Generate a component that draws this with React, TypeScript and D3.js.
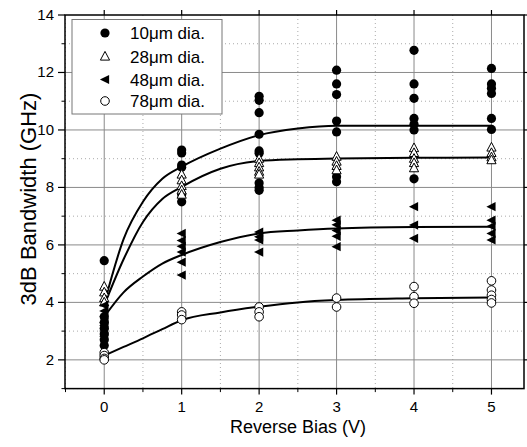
import React from "react";
import * as d3 from "d3";

// Scatter data (x = reverse bias V, y = bandwidth GHz)
const bias = [0, 1, 2, 3, 4, 5];
const d10: number[][] = [
  [5.45, 3.5, 3.3, 3.1, 2.9, 2.7, 2.5],
  [9.3, 9.2, 8.78, 8.7, 7.75, 7.5],
  [11.17, 11.03, 10.6, 9.85, 9.27, 9.19, 8.15, 8.0, 7.9],
  [12.08, 11.6, 11.23, 10.31, 9.93, 8.37, 8.2],
  [12.77, 11.6, 11.1, 10.4, 10.2, 10.0, 8.3],
  [12.14, 11.6, 11.45, 11.27, 10.4, 10.02],
];
const d28: number[][] = [
  [4.55, 4.35, 4.15, 4.0],
  [8.45, 8.25, 8.05, 7.9, 7.75],
  [9.0, 8.85, 8.7, 8.55, 8.45],
  [9.07, 8.9, 8.75, 8.6],
  [9.37, 9.2, 9.0, 8.85, 8.67],
  [9.39, 9.2, 9.05, 8.95],
];
const d48: number[][] = [
  [3.9, 3.7, 3.5, 3.3, 3.2, 3.0, 2.8],
  [6.4, 6.15, 5.95, 5.75, 5.4, 4.95],
  [6.45, 6.28, 6.17, 5.75],
  [6.86, 6.7, 6.5, 6.3, 5.94],
  [7.33, 6.69, 6.23],
  [7.33, 6.86, 6.65, 6.4, 6.17],
];
const d78: number[][] = [
  [2.25, 2.15, 2.05, 2.0],
  [3.67, 3.56, 3.4],
  [3.84, 3.67, 3.5],
  [4.15, 3.84],
  [4.55, 4.2, 3.97],
  [4.75, 4.43, 4.25, 4.1, 3.98],
];

// Fit curves
const fitX = [0, 0.25, 0.5, 0.75, 1, 1.5, 2, 2.5, 3, 4, 5];
const fit10 = [3.95, 6.2, 7.5, 8.3, 8.72, 9.35, 9.82, 10.05, 10.15, 10.15, 10.15];
const fit28 = [3.9, 5.5, 6.8, 7.6, 8.02, 8.65, 8.92, 8.98, 9.01, 9.03, 9.04];
const fit48 = [3.5, 4.35, 4.9, 5.35, 5.65, 6.1, 6.4, 6.5, 6.57, 6.62, 6.63];
const fit78 = [2.15, 2.45, 2.75, 3.07, 3.38, 3.65, 3.85, 4.0, 4.08, 4.14, 4.17];

const xTicks = [0, 1, 2, 3, 4, 5];
const xMinor = [-0.5, 0.5, 1.5, 2.5, 3.5, 4.5];
const yTicks = [2, 4, 6, 8, 10, 12, 14];
const yMinor = [1, 3, 5, 7, 9, 11, 13];
const legendLabels = ["10\u03bcm dia.", "28\u03bcm dia.", "48\u03bcm dia.", "78\u03bcm dia."];

const W = 527, H = 447;
const L = 65, R = 524, T = 15, B = 388.6;
const FONT = "'Liberation Sans', Arial, sans-serif";

function Marker({ kind, cx, cy }: { kind: number; cx: number; cy: number }) {
  const s = 4.6;
  if (kind === 0) return <circle cx={cx} cy={cy} r={s} fill="#000" />;
  if (kind === 1)
    return (
      <path
        d={`M${cx},${cy - s - 0.5}L${cx + s},${cy + s - 1}L${cx - s},${cy + s - 1}Z`}
        fill="#fff"
        stroke="#000"
        strokeWidth={1}
      />
    );
  if (kind === 2)
    return <path d={`M${cx - s - 0.5},${cy}L${cx + s - 0.5},${cy - s}L${cx + s - 0.5},${cy + s}Z`} fill="#000" />;
  return <circle cx={cx} cy={cy} r={s - 0.3} fill="#fff" stroke="#000" strokeWidth={1} />;
}

export default function App() {
  const x = d3.scaleLinear().domain([-0.5, 5.42]).range([L + 0.5, R]);
  const y = d3.scaleLinear().domain([1, 14]).range([B, T]);
  const line = d3
    .line<number>()
    .x((_, i) => x(fitX[i]))
    .y((d) => y(d))
    .curve(d3.curveMonotoneX);
  const fits = [fit10, fit28, fit48, fit78];
  const sets = [d10, d28, d48, d78];

  return (
    <svg width={W} height={H} style={{ position: "absolute", left: 0, top: 0 }} fontFamily={FONT}>
      <rect width={W} height={H} fill="#fff" />
      {/* grid */}
      {xMinor.map((v) => (
        <line key={"xm" + v} x1={x(v)} x2={x(v)} y1={T} y2={B} stroke="#aaa" strokeDasharray="1,3" />
      ))}
      {yMinor.map((v) => (
        <line key={"ym" + v} x1={L} x2={R} y1={y(v)} y2={y(v)} stroke="#aaa" strokeDasharray="1,3" />
      ))}
      {xTicks.map((v) => (
        <line key={"xg" + v} x1={x(v)} x2={x(v)} y1={T} y2={B} stroke="#8a8a8a" strokeWidth={1} />
      ))}
      {yTicks.slice(0, -1).map((v) => (
        <line key={"yg" + v} x1={L} x2={R} y1={y(v)} y2={y(v)} stroke="#8a8a8a" strokeWidth={1} />
      ))}
      {/* fit curves */}
      {fits.map((f, i) => (
        <path key={"f" + i} d={line(f) || ""} fill="none" stroke="#000" strokeWidth={2} />
      ))}
      {/* points */}
      {sets.map((set, k) =>
        set.map((col, j) =>
          col.map((v, n) => <Marker key={`p${k}-${j}-${n}`} kind={k} cx={x(bias[j])} cy={y(v)} />)
        )
      )}
      {/* frame */}
      <rect x={L} y={T} width={R - L} height={B - T} fill="none" stroke="#000" strokeWidth={1.5} />
      {/* ticks */}
      {xTicks.map((v) => (
        <g key={"xt" + v}>
          <line x1={x(v)} x2={x(v)} y1={B} y2={B + 6} stroke="#000" strokeWidth={1.2} />
          <line x1={x(v)} x2={x(v)} y1={T} y2={T - 5} stroke="#000" strokeWidth={1.2} />
          <text x={x(v)} y={412} textAnchor="middle" fontSize={15} fill="#000">
            {v}
          </text>
        </g>
      ))}
      {xMinor.map((v) => (
        <g key={"xmt" + v}>
          <line x1={x(v)} x2={x(v)} y1={B} y2={B + 3.5} stroke="#000" strokeWidth={1} />
        </g>
      ))}
      {yTicks.map((v) => (
        <g key={"yt" + v}>
          <line x1={L - 7} x2={L} y1={y(v)} y2={y(v)} stroke="#000" strokeWidth={1.2} />
          <line x1={R} x2={R + 6} y1={y(v)} y2={y(v)} stroke="#000" strokeWidth={1.2} />
          <text x={54} y={y(v) + 5} textAnchor="end" fontSize={15} fill="#000">
            {v}
          </text>
        </g>
      ))}
      {yMinor.map((v) => (
        <line key={"ymt" + v} x1={L - 3.5} x2={L} y1={y(v)} y2={y(v)} stroke="#000" strokeWidth={1} />
      ))}
      {/* axis titles */}
      <text x={298} y={433} textAnchor="middle" fontSize={18} fill="#000">
        Reverse Bias (V)
      </text>
      <text
        transform={`translate(36,${199}) rotate(-90)`}
        textAnchor="middle"
        fontSize={22}
        fill="#000"
      >
        3dB Bandwidth (GHz)
      </text>
      {/* legend */}
      <rect x={72} y={19.5} width={150} height={94.5} fill="#fff" stroke="#777" strokeWidth={1} />
      {legendLabels.map((lab, i) => {
        const cy = [33, 56.5, 79.5, 101][i];
        return (
          <g key={"lg" + i}>
            <Marker kind={i} cx={105} cy={cy} />
            <text x={130} y={cy + 6} fontSize={17} fill="#000">
              {lab}
            </text>
          </g>
        );
      })}
    </svg>
  );
}
